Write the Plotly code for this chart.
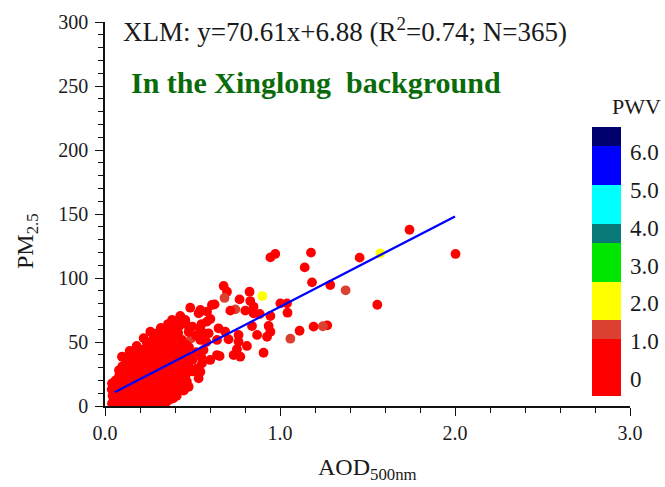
import numpy as np
import plotly.graph_objects as go

# ---------------- data ----------------
# hidden coloured points inside the dense cluster (drawn first)
aod_a = [0.306, 0.421, 0.221, 0.493]
pm_a = [51.6, 50.2, 33.4, 52.9]
pwv_a = [2.1, 2.0, 1.3, 1.3]

# dense cluster (AOD < 0.6)
aod_b = [0.040, 0.043, 0.038, 0.055, 0.058, 0.062, 0.057, 0.060,
         0.078, 0.081, 0.083, 0.079, 0.082, 0.080, 0.098, 0.102, 0.100, 0.097, 0.103, 0.101, 0.099,
         0.118, 0.122, 0.120, 0.121, 0.119, 0.123, 0.120, 0.118,
         0.139, 0.142, 0.140, 0.141, 0.138, 0.143, 0.140, 0.141,
         0.158, 0.161, 0.160, 0.162, 0.159, 0.160, 0.163, 0.157,
         0.179, 0.181, 0.178, 0.182, 0.180, 0.179, 0.183, 0.181,
         0.198, 0.202, 0.200, 0.201, 0.199, 0.203, 0.200, 0.197,
         0.219, 0.221, 0.222, 0.218, 0.220, 0.223, 0.219, 0.221,
         0.238, 0.241, 0.240, 0.242, 0.239, 0.240, 0.243, 0.241, 0.238,
         0.261, 0.259, 0.262, 0.260, 0.258, 0.261, 0.263, 0.259,
         0.279, 0.281, 0.280, 0.282, 0.278, 0.280, 0.283, 0.281, 0.279,
         0.301, 0.299, 0.302, 0.300, 0.298, 0.301, 0.303, 0.300,
         0.321, 0.319, 0.322, 0.320, 0.318, 0.321, 0.323, 0.320, 0.319,
         0.341, 0.339, 0.342, 0.340, 0.338, 0.341, 0.343, 0.340,
         0.361, 0.359, 0.362, 0.360, 0.358, 0.361, 0.363, 0.360,
         0.381, 0.379, 0.382, 0.380, 0.378, 0.381, 0.383, 0.380,
         0.401, 0.399, 0.402, 0.400, 0.398, 0.401, 0.403,
         0.421, 0.419, 0.422, 0.420, 0.418, 0.421,
         0.441, 0.439, 0.442, 0.440, 0.438, 0.443,
         0.461, 0.459, 0.462, 0.460, 0.461,
         0.481, 0.479, 0.480, 0.478, 0.501, 0.499, 0.500, 0.521, 0.520,
         0.551, 0.552, 0.579, 0.601, 0.602,
         0.270, 0.310, 0.330, 0.350, 0.370, 0.390, 0.410, 0.450]
pm_b = [2, 8, 13, 0, 5, 10, 16, 20,
        2, 7, 12, 18, 24, 28, 0, 4, 9, 14, 20, 26, 31,
        2, 6, 11, 17, 23, 29, 34, 38,
        1, 5, 10, 15, 21, 27, 32, 43,
        3, 8, 13, 19, 25, 31, 36, 40,
        1, 6, 12, 18, 24, 29, 35, 47,
        2, 7, 14, 20, 27, 33, 38, 44,
        4, 10, 16, 23, 30, 37, 42, 53,
        2, 8, 15, 21, 28, 35, 41, 47, 50,
        5, 12, 19, 26, 33, 39, 45, 58,
        3, 9, 17, 24, 31, 38, 44, 50, 54,
        6, 14, 22, 29, 36, 42, 47, 57,
        5, 11, 20, 27, 34, 41, 46, 53, 61,
        8, 16, 25, 32, 39, 45, 52, 57,
        12, 21, 30, 37, 44, 50, 56, 64,
        10, 18, 27, 35, 42, 48, 55, 60,
        14, 24, 33, 40, 46, 53, 66,
        20, 29, 38, 45, 57, 62,
        17, 26, 35, 43, 50, 68,
        24, 32, 41, 48, 64,
        30, 38, 46, 58, 27, 36, 62, 42, 55,
        38, 64, 50, 36, 68,
        1, 2, 3, 3, 5, 6, 8, 12]

# scattered points (outer part of the cloud)
aod_c = [2.003, 1.740, 1.573, 1.455, 1.375, 1.556, 1.287, 1.270, 1.245, 0.945,
         0.973, 1.177, 1.141, 1.183, 0.899, 0.678, 0.697, 0.683, 0.826, 0.830,
         0.769, 0.626, 1.002, 1.040, 1.043, 0.945, 0.849, 0.849, 0.745, 0.716,
         0.802, 0.884, 0.583, 0.545, 0.583, 0.840, 0.935, 0.945, 0.926, 0.869,
         1.112, 1.192, 1.059, 0.649, 0.687, 0.763, 0.763, 0.706, 0.811, 0.754,
         0.906, 0.773, 0.735, 0.655, 0.640, 0.592, 0.545, 0.545, 0.563, 0.554,
         0.545, 0.487, 0.611, 0.545, 0.430, 0.383, 0.535, 0.415, 0.459, 0.364,
         0.287, 0.306, 0.440, 0.563, 0.535, 0.468, 0.526, 0.478, 0.335, 0.145,
         0.069, 0.049, 0.049, 0.040, 0.097, 0.126, 0.230, 0.640]
pm_c = [118.8, 137.7, 119.3, 115.9, 90.4, 79.1, 94.5, 63.0, 62.3, 116.1,
        118.8, 119.8, 108.3, 96.6, 85.9, 93.8, 89.3, 84.4, 89.3, 82.0,
        83.3, 79.4, 80.2, 80.2, 72.9, 70.3, 77.6, 72.4, 75.5, 74.5,
        74.5, 71.9, 73.7, 73.7, 65.9, 62.5, 62.5, 58.0, 54.1, 55.5,
        58.8, 62.0, 52.6, 60.7, 58.0, 55.5, 50.2, 52.1, 46.9, 44.3,
        41.6, 38.5, 39.8, 39.0, 51.6, 56.8, 59.4, 51.6, 43.8, 33.4,
        26.8, 76.8, 78.9, 75.0, 70.3, 67.2, 72.4, 63.3, 67.2, 59.4,
        54.1, 49.0, 51.6, 56.8, 21.6, 19.0, 29.4, 15.0, 7.3, 35.9,
        20.3, 15.0, 4.7, 17.7, 38.5, 37.3, 44.5, 39.8]
pwv_c = [0.6, 0.7, 2.1, 0.8, 1.3, 0.9, 0.5, 0.6, 1.3, 0.7,
         0.6, 0.8, 0.7, 0.6, 2.0, 0.5, 0.6, 1.3, 0.5, 0.4,
         0.6, 0.5, 0.7, 0.6, 0.5, 0.6, 0.4, 0.5, 1.3, 0.6,
         0.5, 0.6, 0.4, 0.5, 0.6, 0.5, 0.4, 0.6, 0.5, 0.4,
         0.7, 0.6, 1.3, 0.5, 0.4, 0.6, 0.5, 0.4, 0.5, 0.6,
         0.4, 0.5, 0.6, 0.4, 0.5, 0.6, 0.4, 0.5, 0.6, 0.4,
         0.5, 0.6, 0.4, 0.5, 0.6, 0.4, 0.5, 0.6, 0.4, 0.5,
         0.6, 0.4, 0.5, 0.6, 0.4, 0.5, 0.6, 0.4, 0.5, 0.6,
         0.4, 0.5, 0.6, 0.4, 0.5, 0.6, 0.4, 0.5]
pwv_b_value = 0.5

# regression (from the equation printed on the chart)
fit_slope = 70.61
fit_intercept = 6.88
fit_x_range = [0.055, 2.0]

# colour bar
pwv_ticks = [0, 1, 2, 3, 4, 5, 6]
pwv_ticktext = ["0", "1.0", "2.0", "3.0", "4.0", "5.0", "6.0"]
x_ticks = [0, 1, 2, 3]
x_ticktext = ["0.0", "1.0", "2.0", "3.0"]

assert len(aod_b) == len(pm_b)
assert len(aod_c) == len(pm_c) == len(pwv_c)

aod = aod_a + aod_b + aod_c
pm25 = pm_a + pm_b + pm_c
pwv = pwv_a + [pwv_b_value] * len(aod_b) + pwv_c

# ---------------- figure ----------------
SERIF = "Liberation Serif, Times New Roman, serif"
TXT = "#1a1a1a"

# plot area in pixels
L, R, T, B = 105, 630, 22, 406
PW, PH = R - L, B - T

cmin, cmax = -0.459, 6.643
bounds = [cmin, 1.036, 1.545, 2.557, 3.585, 4.094, 5.104, 6.132, cmax]
cols = ["#ff0000", "#dc4030", "#ffff00", "#00e600", "#0a7a78", "#00ffff", "#0000ff", "#00006e"]
cscale = []
for i, c in enumerate(cols):
    lo = (bounds[i] - cmin) / (cmax - cmin)
    hi = (bounds[i + 1] - cmin) / (cmax - cmin)
    cscale.append([lo, c])
    cscale.append([hi, c])

fig = go.Figure()
fig.add_trace(go.Scatter(
    x=aod, y=pm25, mode="markers",
    marker=dict(size=9.8, color=pwv, coloraxis="coloraxis", line=dict(width=0)),
    showlegend=False,
))
fx = np.array(fit_x_range)
fig.add_trace(go.Scatter(
    x=fx, y=fit_slope * fx + fit_intercept, mode="lines",
    line=dict(color="#0000ff", width=2.3), showlegend=False,
))

def px(xp):
    return (xp - L) / PW

def py(yp):
    return (B - yp) / PH

fig.update_layout(
    width=665, height=487,
    margin=dict(l=L, r=665 - R, t=T, b=487 - B, autoexpand=False),
    paper_bgcolor="white", plot_bgcolor="white",
    font=dict(family=SERIF, color=TXT, size=20),
    coloraxis=dict(
        cmin=cmin, cmax=cmax, colorscale=cscale,
        colorbar=dict(
            xref="paper", yref="paper",
            x=px(591.7), xanchor="left",
            y=py(262), yanchor="middle",
            thickness=29.3, thicknessmode="pixels",
            len=269.4, lenmode="pixels",
            xpad=0, ypad=0, outlinewidth=0, borderwidth=0,
            tickvals=pwv_ticks, ticktext=pwv_ticktext,
            ticks="outside", ticklen=5, tickcolor="rgba(0,0,0,0)",
            tickfont=dict(family=SERIF, size=23, color=TXT),
        ),
    ),
    xaxis=dict(
        range=[0, 3], tickvals=x_ticks, ticktext=x_ticktext,
        ticks="outside", ticklen=8, tickwidth=1.3, tickcolor="#111",
        minor=dict(dtick=0.2, ticks="outside", ticklen=5, tickwidth=1.3, tickcolor="#111"),
        showline=True, linecolor="#111", linewidth=1.5,
        showgrid=False, zeroline=False,
        tickfont=dict(family=SERIF, size=20, color=TXT),
    ),
    yaxis=dict(
        range=[0, 300], dtick=50, tick0=0,
        ticks="outside", ticklen=8, tickwidth=1.3, tickcolor="#111",
        minor=dict(dtick=10, ticks="outside", ticklen=5, tickwidth=1.3, tickcolor="#111"),
        showline=True, linecolor="#111", linewidth=1.5,
        showgrid=False, zeroline=False,
        ticklabelstandoff=3,
        tickfont=dict(family=SERIF, size=20, color=TXT),
    ),
)

ann = [
    dict(text="XLM: y=70.61x+6.88 (R<sup>2</sup>=0.74; N=365)",
         x=px(121), y=py(30), xanchor="left", yanchor="middle",
         font=dict(size=27, family=SERIF, color=TXT)),
    dict(text="<b>In the Xinglong\u00a0\u00a0background</b>",
         x=px(129), y=py(82), xanchor="left", yanchor="middle",
         font=dict(size=30, family=SERIF, color="#0a6b0a")),
    dict(text="PWV", x=px(636.7), y=py(107),
         xanchor="center", yanchor="middle",
         font=dict(size=22, family=SERIF, color=TXT)),
    dict(text="PM<sub>2.5</sub>", x=px(27), y=py(241),
         xanchor="center", yanchor="middle", textangle=-90,
         font=dict(size=24, family=SERIF, color=TXT)),
    dict(text="AOD<sub>500nm</sub>", x=px(367.5), y=py(469),
         xanchor="center", yanchor="middle",
         font=dict(size=24, family=SERIF, color=TXT)),
]
for a in ann:
    a.update(xref="paper", yref="paper", showarrow=False)
    fig.add_annotation(**a)

fig.write_html("out.html")
